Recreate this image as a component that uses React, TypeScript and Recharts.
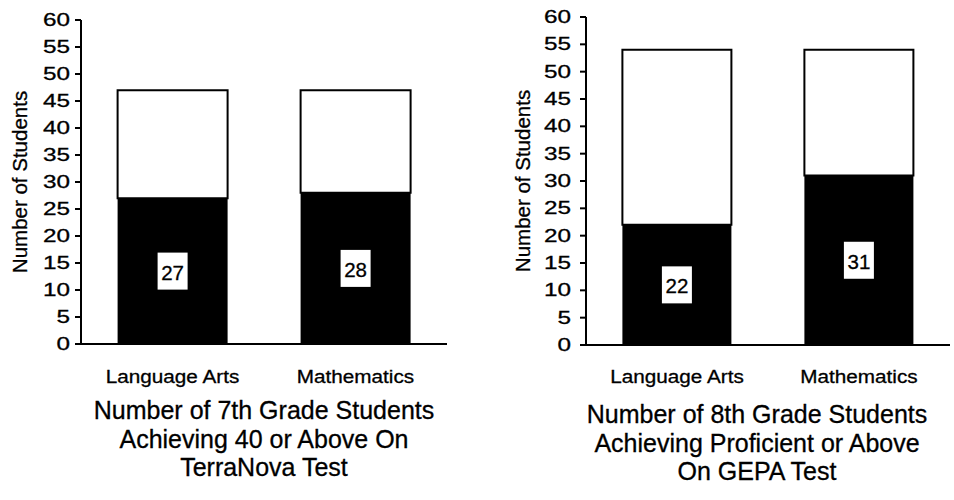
import { BarChart, Bar, XAxis, YAxis, LabelList } from "recharts";

const subjects = ["Language Arts", "Mathematics"];

// 7th grade, TerraNova (40 or above)
const grade7Achieved = [27, 28];
const grade7Tested = [47, 47];

// 8th grade, GEPA (proficient or above)
const grade8Achieved = [22, 31];
const grade8Tested = [54, 54];

const yTicks = [0, 5, 10, 15, 20, 25, 30, 35, 40, 45, 50, 55, 60];

const leftTitle = ["Number of 7th Grade Students", "Achieving 40 or Above On", "TerraNova Test"];
const rightTitle = ["Number of 8th Grade Students", "Achieving Proficient or Above", "On GEPA Test"];

const FONT = '"Liberation Sans", Arial, Helvetica, sans-serif';

function buildRows(achieved: number[], tested: number[]) {
  return subjects.map((name, i) => ({
    name,
    achieved: achieved[i],
    rest: tested[i] - achieved[i],
  }));
}

// scanned labels look horizontally stretched, so widen them a bit
function YTick(props: any) {
  const { x, y, payload } = props;
  return (
    <text
      transform={`translate(${x},${y}) scale(1.35,1)`}
      textAnchor="end"
      dominantBaseline="central"
      fontSize={18}
      fontFamily={FONT}
      fill="#000"
      stroke="#000"
      strokeWidth={0.3}
    >
      {payload.value}
    </text>
  );
}

function XTick(props: any) {
  const { x, y, payload } = props;
  return (
    <text
      transform={`translate(${x},${y}) scale(1.12,1)`}
      textAnchor="middle"
      dy="0.72em"
      fontSize={18.5}
      fontFamily={FONT}
      fill="#000"
      stroke="#000"
      strokeWidth={0.3}
    >
      {payload.value}
    </text>
  );
}

function ValueBox(props: any) {
  const { x, y, width, height, value } = props;
  const cx = Number(x) + Number(width) / 2;
  const cy = Number(y) + Number(height) / 2;
  return (
    <g>
      <rect x={cx - 15} y={cy - 18.5} width={30} height={37} fill="#fff" />
      <text
        x={cx}
        y={cy + 1}
        textAnchor="middle"
        dominantBaseline="central"
        fontSize={20.5}
        fontFamily={FONT}
        fill="#000"
        stroke="#000"
        strokeWidth={0.3}
      >
        {value}
      </text>
    </g>
  );
}

interface GradeChartProps {
  rows: { name: string; achieved: number; rest: number }[];
  width: number;
  top: number;
  bottom: number;
  right: number;
  axisWidth: number;
  labelOffset: number;
  tickGap: number;
  xTickGap: number;
}

const CHART_H = 400;

function GradeChart({ rows, width, top, bottom, right, axisWidth, labelOffset, tickGap, xTickGap }: GradeChartProps) {
  return (
    <BarChart
      width={width}
      height={CHART_H}
      data={rows}
      margin={{ top, right, bottom: 0, left: 0 }}
      barCategoryGap="20%"
    >
      <XAxis
        dataKey="name"
        interval={0}
        height={CHART_H - bottom}
        axisLine={{ stroke: "#000", strokeWidth: 2 }}
        tickLine={false}
        tickSize={0}
        tickMargin={xTickGap}
        tick={<XTick />}
      />
      <YAxis
        domain={[0, 60]}
        ticks={yTicks}
        interval={0}
        width={axisWidth}
        axisLine={{ stroke: "#000", strokeWidth: 2 }}
        tickLine={{ stroke: "#000", strokeWidth: 2 }}
        tickSize={6}
        tickMargin={tickGap}
        tick={<YTick />}
        label={{
          value: "Number of Students",
          angle: -90,
          position: "insideLeft",
          offset: labelOffset,
          style: {
            textAnchor: "middle",
            fontSize: 20.5,
            fontFamily: FONT,
            fill: "#000",
            stroke: "#000",
            strokeWidth: 0.3,
          },
        }}
      />
      <Bar dataKey="achieved" stackId="s" fill="#000" isAnimationActive={false}>
        <LabelList dataKey="achieved" content={<ValueBox />} />
      </Bar>
      <Bar dataKey="rest" stackId="s" fill="#fff" stroke="#000" strokeWidth={2} isAnimationActive={false} />
    </BarChart>
  );
}

function Title({ lines, left, top }: { lines: string[]; left: number; top: number }) {
  return (
    <div
      style={{
        position: "absolute",
        left,
        top,
        width: 420,
        textAlign: "center",
        fontFamily: FONT,
        fontSize: 25,
        lineHeight: "28.5px",
        color: "#000",
        WebkitTextStroke: "0.3px #000",
      }}
    >
      {lines.map((l) => (
        <div key={l}>{l}</div>
      ))}
    </div>
  );
}

export default function App() {
  return (
    <div
      style={{
        position: "absolute",
        left: 0,
        top: 0,
        width: 954,
        height: 500,
        overflow: "hidden",
        background: "#fff",
      }}
    >
      <div style={{ position: "absolute", left: 0, top: 0 }}>
        <GradeChart
          rows={buildRows(grade7Achieved, grade7Tested)}
          width={480}
          top={20}
          bottom={344}
          right={33}
          axisWidth={81}
          labelOffset={20}
          tickGap={5}
          xTickGap={26}
        />
      </div>
      <div style={{ position: "absolute", left: 480, top: 0 }}>
        <GradeChart
          rows={buildRows(grade8Achieved, grade8Tested)}
          width={474}
          top={17}
          bottom={345}
          right={4}
          axisWidth={106}
          labelOffset={43}
          tickGap={9}
          xTickGap={25}
        />
      </div>
      <Title lines={leftTitle} left={54} top={396} />
      <Title lines={rightTitle} left={547} top={400} />
    </div>
  );
}
